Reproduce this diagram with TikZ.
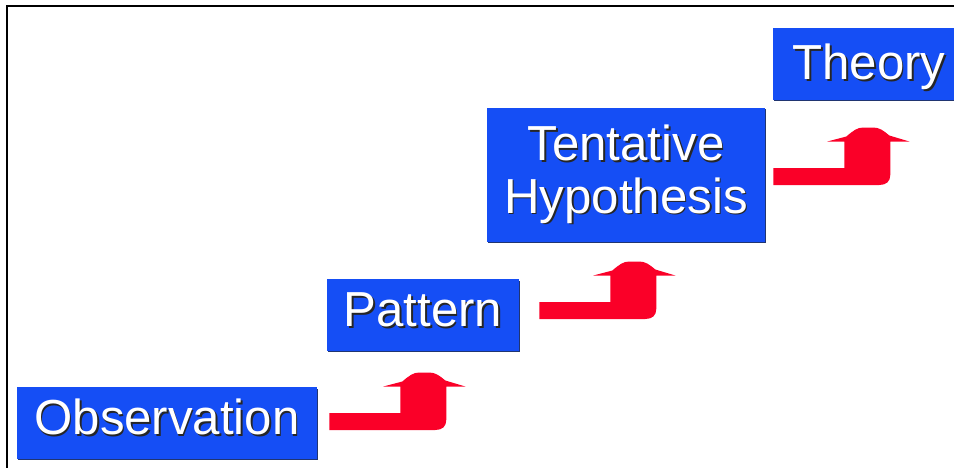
\documentclass[tikz,border=0pt]{standalone}
\usepackage{fontspec}
\setmainfont{Liberation Sans}
\usepackage{xcolor}
\usepackage{tikz}
\usetikzlibrary{positioning, calc, shadows}

\definecolor{stepblue}{RGB}{21,78,245}
\definecolor{stepred}{RGB}{250,0,40}
\newcommand{\shtext}[1]{\makebox[0pt][l]{\hspace{0.9pt}\raisebox{-0.9pt}{\color{black!85}#1}}#1}

\begin{document}
\begin{tikzpicture}[x=0.02cm, y=-0.02cm]

		\tikzstyle{stepbox}=[fill=stepblue, text=white, inner sep=0pt, font=\fontsize{28}{30}\selectfont, drop shadow={shadow xshift=0.8pt, shadow yshift=-0.8pt, fill=black!60!stepblue, opacity=0.9}]
		\tikzstyle{oneline}=[text height=27pt, text depth=13.8pt]
		\tikzset{pics/steparrow/.style={code={
			\fill[stepred] (0,-8.5) -- (71,-8.5) -- (71,-35) -- (54,-35) -- (73,-40)
				.. controls (80,-46) and (84,-49) .. (90,-49) -- (100,-49)
				.. controls (106,-49) and (110,-46) .. (116,-41) -- (136,-35) -- (117,-35) -- (117,-2)
				.. controls (117,5) and (113,8.5) .. (106,8.5) -- (0,8.5) -- cycle;
		}}}
		
		\useasboundingbox (0,0) rectangle (954,468);
		
		\node (obs) at (167,423) [stepbox, oneline, minimum width=6cm] {\shtext{Observation}};
		\node (pat) at (423,315) [stepbox, oneline, minimum width=3.84cm] {\shtext{Pattern}};
		\node (tent) at (626,175) [stepbox, align=center, minimum width=5.56cm, minimum height=2.68cm] {\shtext{Tentative}\\\shtext{Hypothesis}};
		\node (theo) at (869,64) [stepbox, text height=29.5pt, text depth=11.3pt, minimum width=3.84cm] {\shtext{Theory}};
		
		
		\pic at ($(obs.east)+(12,-1.5)$) {steparrow};
		\pic at ($(pat.east)+(20,-4.5)$) {steparrow};
		\pic at ($(tent.east)+(8,1.5)$) {steparrow};
		
		
		\draw [line width=1.1pt] (954,6) -- (7,6) -- (7,468);
		
\end{tikzpicture}
\end{document}
